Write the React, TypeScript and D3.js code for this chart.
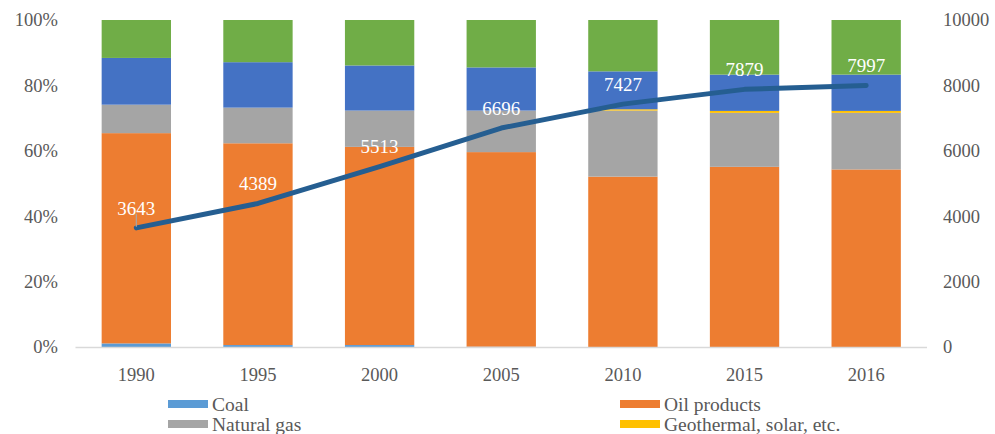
import React, { useEffect, useRef } from 'react';
import * as d3 from 'd3';

const years = ['1990', '1995', '2000', '2005', '2010', '2015', '2016'];
const coal = [1.1, 0.6, 0.6, 0.1, 0, 0, 0];
const oilProducts = [64.3, 61.7, 60.6, 59.5, 52.1, 55.1, 54.3];
const naturalGas = [8.7, 10.9, 11.1, 12.7, 20.2, 16.5, 17.3];
const geothermal = [0, 0, 0, 0, 0.4, 0.6, 0.6];
const electricity = [14.3, 13.9, 13.8, 13.2, 11.6, 11.1, 11.1];
const biofuels = [11.6, 12.9, 13.9, 14.5, 15.7, 16.7, 16.7];
const totals = [3643, 4389, 5513, 6696, 7427, 7879, 7997];

const leftTicks = [0, 20, 40, 60, 80, 100];
const rightTicks = [0, 2000, 4000, 6000, 8000, 10000];

const seriesNames = ['Coal', 'Oil products', 'Natural gas', 'Geothermal, solar, etc.', 'Electricity', 'Biofuels and waste'];
const seriesColors = ['#5B9BD5', '#ED7D31', '#A5A5A5', '#FFC000', '#4472C4', '#70AD47'];
const seriesValues = [coal, oilProducts, naturalGas, geothermal, electricity, biofuels];

const FONT = '"Liberation Serif", "Times New Roman", serif';

const App: React.FC = () => {
  const ref = useRef<SVGSVGElement | null>(null);

  useEffect(() => {
    if (!ref.current) return;
    const svg = d3.select(ref.current);
    svg.selectAll('*').remove();

    const x = d3.scaleBand<string>().domain(years).range([75.5, 927]).paddingInner(0.43).paddingOuter(0.215);
    const y = d3.scaleLinear().domain([0, 100]).range([347, 20]);
    const yR = d3.scaleLinear().domain([0, 10000]).range([347, 20]);

    const rows = years.map((yr, i) => {
      const r: any = { year: yr };
      seriesNames.forEach((n, j) => (r[n] = seriesValues[j][i]));
      return r;
    });
    const stack = d3.stack<any>().keys(seriesNames)(rows);

    // stacked bars
    svg
      .append('g')
      .selectAll('g')
      .data(stack)
      .enter()
      .append('g')
      .attr('fill', (_d: any, i: number) => seriesColors[i])
      .selectAll('rect')
      .data((d: any) => d)
      .enter()
      .append('rect')
      .attr('x', (d: any) => x(d.data.year)!)
      .attr('width', x.bandwidth())
      .attr('y', (d: any) => y(d[1]))
      .attr('height', (d: any) => Math.max(0, y(d[0]) - y(d[1])));

    // baseline
    svg
      .append('line')
      .attr('x1', 75.5)
      .attr('x2', 927)
      .attr('y1', 347.5)
      .attr('y2', 347.5)
      .attr('stroke', '#d9d9d9')
      .attr('stroke-width', 1.5);

    // left axis labels
    svg
      .append('g')
      .selectAll('text')
      .data(leftTicks)
      .enter()
      .append('text')
      .attr('x', 58)
      .attr('y', (d: number) => y(d))
      .attr('dy', '0.35em')
      .attr('text-anchor', 'end')
      .attr('font-family', FONT)
      .attr('font-size', 18.5)
      .attr('fill', '#595959')
      .text((d: number) => `${d}%`);

    // right axis labels
    svg
      .append('g')
      .selectAll('text')
      .data(rightTicks)
      .enter()
      .append('text')
      .attr('x', 943)
      .attr('y', (d: number) => yR(d))
      .attr('dy', '0.35em')
      .attr('font-family', FONT)
      .attr('font-size', 18.5)
      .attr('fill', '#595959')
      .text((d: number) => `${d}`);

    // x labels
    svg
      .append('g')
      .selectAll('text')
      .data(years)
      .enter()
      .append('text')
      .attr('x', (d: string) => x(d)! + x.bandwidth() / 2)
      .attr('y', 375)
      .attr('dy', '0.35em')
      .attr('text-anchor', 'middle')
      .attr('font-family', FONT)
      .attr('font-size', 18.5)
      .attr('fill', '#595959')
      .text((d: string) => d);

    // total line
    const cx = (i: number) => x(years[i])! + x.bandwidth() / 2;
    const line = d3
      .line<number>()
      .x((_d: number, i: number) => cx(i))
      .y((d: number) => yR(d));
    svg
      .append('path')
      .datum(totals)
      .attr('d', line)
      .attr('fill', 'none')
      .attr('stroke', '#255E91')
      .attr('stroke-width', 5)
      .attr('stroke-linecap', 'round')
      .attr('stroke-linejoin', 'round');

    // leader line for first label
    svg
      .append('line')
      .attr('x1', cx(0))
      .attr('x2', cx(0))
      .attr('y1', yR(totals[0]) - 14)
      .attr('y2', yR(totals[0]) - 1)
      .attr('stroke', '#a6a6a6')
      .attr('stroke-width', 1.2);

    svg
      .append('g')
      .selectAll('text')
      .data(totals)
      .enter()
      .append('text')
      .attr('x', (_d: number, i: number) => cx(i))
      .attr('y', (d: number) => yR(d) - 20)
      .attr('dy', '0.35em')
      .attr('text-anchor', 'middle')
      .attr('font-family', FONT)
      .attr('font-size', 19)
      .attr('fill', '#ffffff')
      .text((d: number) => `${d}`);

    // legend (only the first two rows fit in view)
    const legend = svg.append('g');
    const item = legend
      .selectAll('g')
      .data(seriesNames.slice(0, 4))
      .enter()
      .append('g')
      .attr('transform', (_d: string, i: number) => `translate(${i % 2 === 0 ? 168 : 620}, ${404 + Math.floor(i / 2) * 20})`);
    item
      .append('rect')
      .attr('x', 0)
      .attr('y', -4)
      .attr('width', 40)
      .attr('height', 8)
      .attr('fill', (_d: string, i: number) => seriesColors[i]);
    item
      .append('text')
      .attr('x', 44)
      .attr('y', 0)
      .attr('dy', '0.35em')
      .attr('font-family', FONT)
      .attr('font-size', 19.5)
      .attr('fill', '#595959')
      .text((d: string) => d);
  }, []);

  return <svg ref={ref} width={995} height={434} style={{ position: 'absolute', left: 0, top: 0, background: '#fff' }} />;
};

export default App;
